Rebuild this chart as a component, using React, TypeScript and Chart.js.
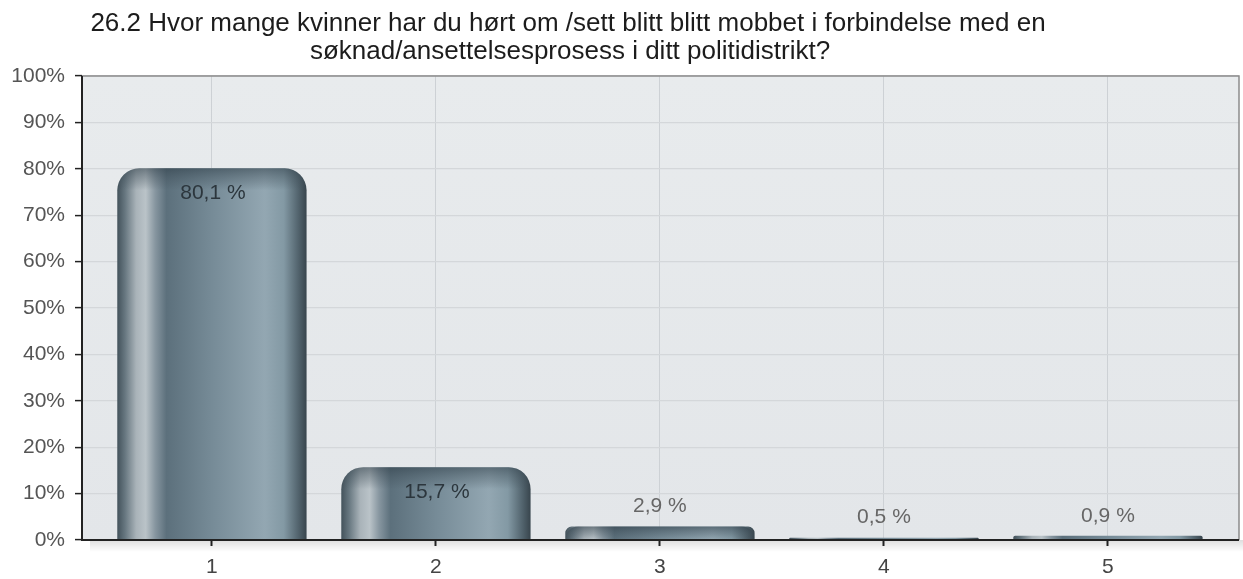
import React, { useEffect, useRef } from "react";
import { Chart, registerables } from "chart.js";

Chart.register(...registerables);

const titleLines = [
  "26.2 Hvor mange kvinner har du hørt om /sett blitt blitt mobbet i forbindelse med en",
  "søknad/ansettelsesprosess i ditt politidistrikt?",
];
const categories = ["1", "2", "3", "4", "5"];
const values = [80.1, 15.7, 2.9, 0.5, 0.9];
const yTicks = [0, 10, 20, 30, 40, 50, 60, 70, 80, 90, 100];

const FONT = "'Liberation Sans', Arial, sans-serif";

function barGradient(ctx: CanvasRenderingContext2D, x0: number, x1: number) {
  const g = ctx.createLinearGradient(x0, 0, x1, 0);
  g.addColorStop(0.0, "#43525b");
  g.addColorStop(0.04, "#66767f");
  g.addColorStop(0.1, "#a9b3b9");
  g.addColorStop(0.15, "#bac3c8");
  g.addColorStop(0.2, "#8796a0");
  g.addColorStop(0.26, "#5c707c");
  g.addColorStop(0.5, "#768b97");
  g.addColorStop(0.78, "#93a7b2");
  g.addColorStop(0.88, "#8399a4");
  g.addColorStop(0.95, "#566872");
  g.addColorStop(1.0, "#38454d");
  return g;
}

const decorPlugin = {
  id: "decor",
  beforeDraw(chart: any) {
    const { ctx, chartArea } = chart;
    const { left, right, top, bottom } = chartArea;
    ctx.save();
    const sh = ctx.createLinearGradient(0, bottom, 0, bottom + 12);
    sh.addColorStop(0, "rgba(0,0,0,0.13)");
    sh.addColorStop(1, "rgba(0,0,0,0)");
    ctx.fillStyle = sh;
    ctx.fillRect(left + 8, bottom, right - left - 4, 12);
    const bg = ctx.createLinearGradient(0, top, 0, bottom);
    bg.addColorStop(0, "#e8ebed");
    bg.addColorStop(1, "#e3e6e9");
    ctx.fillStyle = bg;
    ctx.fillRect(left, top, right - left, bottom - top);
    ctx.fillStyle = "#1c1c1c";
    ctx.font = `26px ${FONT}`;
    ctx.textAlign = "center";
    ctx.textBaseline = "alphabetic";
    ctx.fillText(titleLines[0], 568, 31);
    ctx.fillText(titleLines[1], 570, 59);
    ctx.restore();
  },
  afterDatasetsDraw(chart: any) {
    const { ctx, chartArea } = chart;
    const { left, right, top, bottom } = chartArea;
    const meta = chart.getDatasetMeta(0);
    ctx.save();
    meta.data.forEach((el: any) => {
      const h = el.base - el.y;
      if (h < 4) return;
      const w = el.width;
      const x0 = el.x - w / 2;
      const capH = Math.min(22, h);
      const r = Math.min(22, w / 2, h);
      ctx.save();
      ctx.beginPath();
      ctx.moveTo(x0, el.y + capH);
      ctx.lineTo(x0, el.y + r);
      ctx.arcTo(x0, el.y, x0 + r, el.y, r);
      ctx.lineTo(x0 + w - r, el.y);
      ctx.arcTo(x0 + w, el.y, x0 + w, el.y + r, r);
      ctx.lineTo(x0 + w, el.y + capH);
      ctx.closePath();
      const cg = ctx.createLinearGradient(0, el.y, 0, el.y + capH);
      cg.addColorStop(0, "rgba(45,60,70,0.55)");
      cg.addColorStop(0.6, "rgba(60,75,85,0.25)");
      cg.addColorStop(1, "rgba(60,75,85,0)");
      ctx.fillStyle = cg;
      ctx.fill();
      ctx.restore();
    });
    ctx.font = `21px ${FONT}`;
    ctx.textAlign = "center";
    ctx.textBaseline = "middle";
    meta.data.forEach((el: any, i: number) => {
      const v = values[i];
      const txt = v.toFixed(1).replace(".", ",") + " %";
      const h = el.base - el.y;
      if (h > 40) {
        ctx.fillStyle = "#2c363d";
        ctx.fillText(txt, el.x + 1, el.y + 25);
      } else {
        ctx.fillStyle = "#666";
        ctx.fillText(txt, el.x, el.y - 20);
      }
    });
    ctx.strokeStyle = "#8c8c8c";
    ctx.lineWidth = 1.5;
    ctx.beginPath();
    ctx.moveTo(left, top);
    ctx.lineTo(right, top);
    ctx.lineTo(right, bottom);
    ctx.stroke();
    ctx.strokeStyle = "#222";
    ctx.lineWidth = 2;
    ctx.beginPath();
    ctx.moveTo(left, top);
    ctx.lineTo(left, bottom);
    ctx.lineTo(right, bottom);
    ctx.stroke();
    ctx.restore();
  },
};

export default function App() {
  const ref = useRef<HTMLCanvasElement>(null);
  useEffect(() => {
    const canvas = ref.current!;
    const chart = new Chart(canvas, {
      type: "bar",
      data: {
        datasets: [
          {
            data: values.map((v, i) => ({ x: i + 1, y: v })),
            backgroundColor: (c: any) => {
              const ch = c.chart;
              const xs = ch.scales?.x;
              if (!xs || c.type !== "data") return "#6f838e";
              const cx = xs.getPixelForValue(c.dataIndex + 1);
              const unit = xs.getPixelForValue(2) - xs.getPixelForValue(1);
              if (!isFinite(cx) || !isFinite(unit) || unit <= 0) return "#6f838e";
              const hw = (unit * 0.845) / 2;
              return barGradient(ch.ctx, cx - hw, cx + hw);
            },
            borderWidth: 0,
            borderRadius: { topLeft: 22, topRight: 22, bottomLeft: 0, bottomRight: 0 },
            borderSkipped: "start",
            categoryPercentage: 0.845,
            barPercentage: 1,
          } as any,
        ],
      },
      options: {
        animation: false,
        responsive: false,
        maintainAspectRatio: false,
        layout: { padding: { top: 76, right: 4, left: 0, bottom: 0 } },
        plugins: {
          legend: { display: false },
          title: { display: false },
          tooltip: { enabled: false },
        },
        scales: {
          x: {
            type: "linear",
            offset: false,
            min: 0.42,
            max: 5.585,
            afterFit: (s: any) => {
              s.height = 39;
            },
            afterBuildTicks: (s: any) => {
              s.ticks = categories.map((_, i) => ({ value: i + 1 }));
            },
            ticks: {
              stepSize: 1,
              includeBounds: false,
              autoSkip: false,
              maxRotation: 0,
              padding: 9,
              color: "#444",
              font: { family: FONT, size: 21 },
              callback: (v: any) => {
                const idx = Math.round(Number(v)) - 1;
                return categories[idx] ?? "";
              },
            },
            grid: {
              offset: false,
              color: "#cdd1d5",
              lineWidth: 1,
              drawTicks: true,
              tickLength: 6,
              tickColor: "#222",
              tickWidth: 2,
            },
            border: { display: false },
          },
          y: {
            min: 0,
            max: 100,
            afterFit: (s: any) => {
              s.width = 82;
            },
            afterBuildTicks: (s: any) => {
              s.ticks = yTicks.map((v) => ({ value: v }));
            },
            ticks: {
              padding: 10,
              color: "#555",
              font: { family: FONT, size: 21 },
              callback: (v: any) => `${v}%`,
            },
            grid: {
              color: "#d4d7da",
              lineWidth: 1.2,
              drawTicks: true,
              tickLength: 7,
              tickColor: "#222",
              tickWidth: 1.5,
            },
            border: { display: false },
          },
        },
      } as any,
      plugins: [decorPlugin],
    });
    return () => chart.destroy();
  }, []);
  return (
    <div style={{ position: "absolute", left: 0, top: 0, width: 1243, height: 579, background: "#fff" }}>
      <canvas ref={ref} width={1243} height={579} style={{ display: "block", width: 1243, height: 579 }} />
    </div>
  );
}
